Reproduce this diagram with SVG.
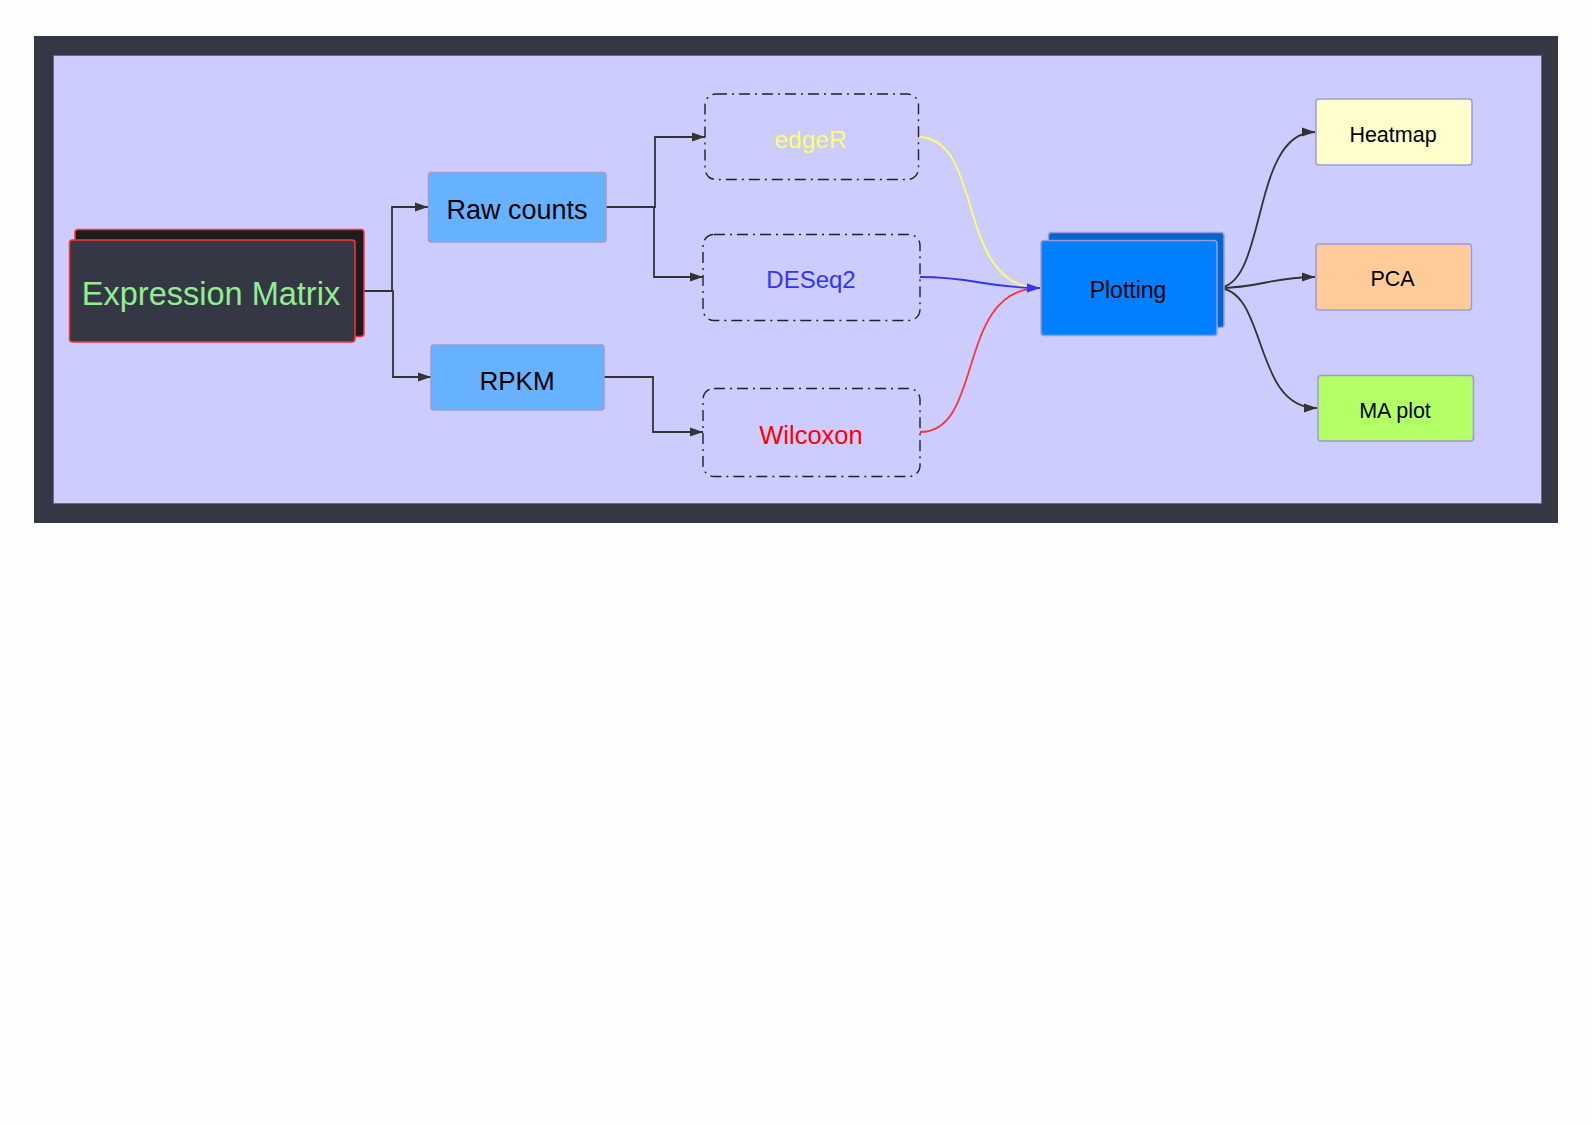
<svg xmlns="http://www.w3.org/2000/svg" width="1592" height="1125" viewBox="0 0 1592 1125">
  <defs>
    <style>
      text { font-family: "Liberation Sans", Arial, sans-serif; text-anchor: middle; }
      .conn { fill: none; stroke: #333333; stroke-width: 1.8; }
      .soft { stroke: #9a9ad8; stroke-width: 1.5; }
      .dash { fill: none; stroke: #222222; stroke-width: 1.4; stroke-dasharray: 11 5 2 5; }
    </style>
    <marker id="arr" markerWidth="14" markerHeight="10" refX="13" refY="5" orient="auto" markerUnits="userSpaceOnUse">
      <path d="M0,0.5 L13,5 L0,9.5 Z" fill="#333333"/>
    </marker>
    <marker id="arrY" markerWidth="14" markerHeight="10" refX="13" refY="5" orient="auto" markerUnits="userSpaceOnUse">
      <path d="M0,0.5 L13,5 L0,9.5 Z" fill="#ffff66"/>
    </marker>
    <marker id="arrR" markerWidth="14" markerHeight="10" refX="13" refY="5" orient="auto" markerUnits="userSpaceOnUse">
      <path d="M0,0.5 L13,5 L0,9.5 Z" fill="#ff3333"/>
    </marker>
    <marker id="arrB" markerWidth="14" markerHeight="10" refX="13" refY="5" orient="auto" markerUnits="userSpaceOnUse">
      <path d="M0,0.5 L13,5 L0,9.5 Z" fill="#3333ff"/>
    </marker>
  </defs>

  <rect x="0" y="0" width="1592" height="1125" fill="#fefefe"/>

  <g id="frame">
    <rect x="34" y="36" width="1524" height="487" fill="#363745"/>
    <rect x="53.5" y="55.5" width="1488" height="448" fill="#ccccfe" stroke="#6a6a88" stroke-width="1"/>
  </g>

  <g id="connectors">
    <path class="conn" d="M355,291 H392 V207 H428" marker-end="url(#arr)"/>
    <path class="conn" d="M355,291 H393 V377 H431" marker-end="url(#arr)"/>
    <path class="conn" d="M606,207 H655 V137 H705" marker-end="url(#arr)"/>
    <path class="conn" d="M606,207 H654 V277 H703" marker-end="url(#arr)"/>
    <path class="conn" d="M604,377 H653 V432 H703" marker-end="url(#arr)"/>
    <path fill="none" stroke="#ffff66" stroke-width="1.8" d="M918,137 C985,137 955,288 1040,288" marker-end="url(#arrY)"/>
    <path fill="none" stroke="#ff3333" stroke-width="1.8" d="M920,432 C985,432 955,288 1040,288" marker-end="url(#arrR)"/>
    <path fill="none" stroke="#3333ff" stroke-width="1.8" d="M920,277 C975,277 985,288 1040,288" marker-end="url(#arrB)"/>
    <path class="conn" d="M1217,288 C1268,288 1250,132 1315,132" marker-end="url(#arr)"/>
    <path class="conn" d="M1217,288 C1262,288 1270,277 1315,277" marker-end="url(#arr)"/>
    <path class="conn" d="M1217,288 C1268,288 1252,408 1317,408" marker-end="url(#arr)"/>
  </g>

  <g id="node-expression-matrix">
    <rect x="75" y="229.5" width="289" height="107" rx="3" fill="#1c1c1e" stroke="#ff3333" stroke-width="1.5"/>
    <rect x="69.5" y="240" width="285.5" height="102" rx="3" fill="#353744" stroke="#ff3333" stroke-width="1.5"/>
    <text x="211" y="305" font-size="32.5" fill="#90ee90">Expression Matrix</text>
  </g>

  <g id="node-raw-counts">
    <rect class="soft" x="428.5" y="172.5" width="177.5" height="69.5" rx="3" fill="#66b2ff"/>
    <text x="517" y="219" font-size="27" fill="#000000">Raw counts</text>
  </g>

  <g id="node-rpkm">
    <rect class="soft" x="431" y="345" width="173" height="65" rx="3" fill="#66b2ff"/>
    <text x="517" y="389.5" font-size="26" fill="#000000">RPKM</text>
  </g>

  <g id="node-edger">
    <rect class="dash" x="705" y="94" width="213.5" height="85.5" rx="11"/>
    <text x="810.5" y="147.5" font-size="24.5" fill="#ffff66">edgeR</text>
  </g>

  <g id="node-deseq2">
    <rect class="dash" x="703" y="234.5" width="217" height="86" rx="11"/>
    <text x="811" y="287.5" font-size="24" fill="#3333ff">DESeq2</text>
  </g>

  <g id="node-wilcoxon">
    <rect class="dash" x="703" y="388.5" width="217" height="88" rx="11"/>
    <text x="811" y="443.5" font-size="25.5" fill="#ff0000">Wilcoxon</text>
  </g>

  <g id="node-plotting">
    <rect class="soft" x="1048.5" y="232.5" width="175.5" height="95" rx="3" fill="#0066cc"/>
    <rect class="soft" x="1041" y="240.5" width="176" height="95" rx="3" fill="#007fff"/>
    <text x="1128" y="297.5" font-size="23" fill="#000000">Plotting</text>
  </g>

  <g id="node-heatmap">
    <rect class="soft" x="1316" y="99" width="156" height="66" rx="3" fill="#ffffcc"/>
    <text x="1393" y="141.5" font-size="21.5" fill="#000000">Heatmap</text>
  </g>

  <g id="node-pca">
    <rect class="soft" x="1316" y="244" width="155.5" height="66" rx="3" fill="#ffcc99"/>
    <text x="1392.5" y="286" font-size="21.5" fill="#000000">PCA</text>
  </g>

  <g id="node-ma-plot">
    <rect class="soft" x="1318" y="375.5" width="155.5" height="65.5" rx="3" fill="#b3ff66"/>
    <text x="1395" y="417.5" font-size="21.5" fill="#000000">MA plot</text>
  </g>
</svg>
